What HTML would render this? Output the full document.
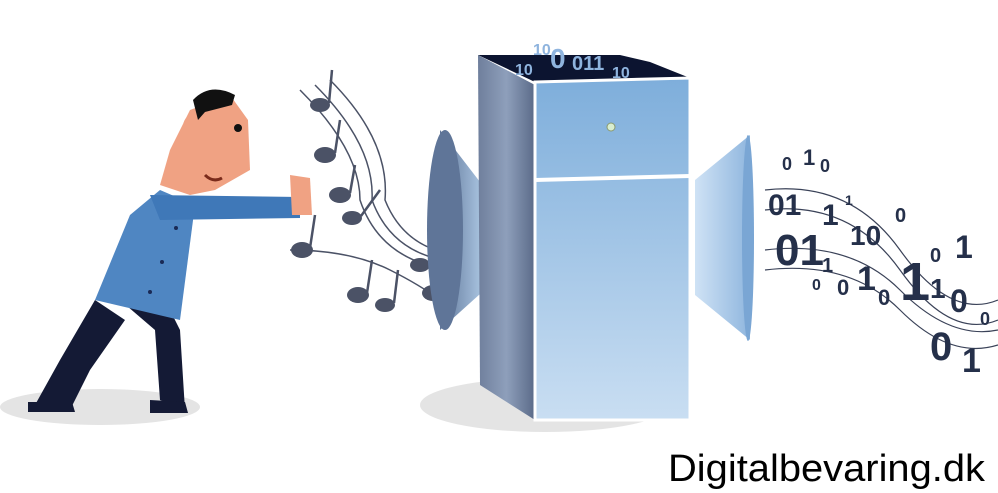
<!DOCTYPE html>
<html><head><meta charset="utf-8"><style>
html,body{margin:0;padding:0;background:#fff;width:998px;height:493px;overflow:hidden}
svg{display:block}
</style></head><body>
<svg width="998" height="493" viewBox="0 0 998 493" xmlns="http://www.w3.org/2000/svg" font-family="Liberation Sans, sans-serif">
<defs>
<linearGradient id="side" x1="0" x2="1"><stop offset="0" stop-color="#6f7f9c"/><stop offset="0.5" stop-color="#8e9fbb"/><stop offset="1" stop-color="#5a6a88"/></linearGradient>
<linearGradient id="front" x1="0" y1="0" x2="0" y2="1"><stop offset="0" stop-color="#7eaedb"/><stop offset="1" stop-color="#c9def2"/></linearGradient>
<linearGradient id="funl" x1="0" x2="1"><stop offset="0" stop-color="#5f7598"/><stop offset="1" stop-color="#b7d3ee"/></linearGradient>
<linearGradient id="funr" x1="0" x2="1"><stop offset="0" stop-color="#cfe2f5"/><stop offset="1" stop-color="#8fb6de"/></linearGradient>
</defs>
<ellipse cx="100" cy="407" rx="100" ry="18" fill="#e4e4e4"/>
<ellipse cx="545" cy="405" rx="125" ry="27" fill="#e4e4e4"/>
<path d="M95 300 L60 360 L35 405 L70 410 L90 370 L125 320 Z" fill="#141a35"/>
<path d="M120 300 L155 330 L160 400 L185 410 L180 330 L160 290 Z" fill="#141a35"/>
<path d="M28 402 L72 402 L75 412 L28 412Z" fill="#141a35"/>
<path d="M150 400 L185 402 L188 413 L150 413Z" fill="#141a35"/>
<path d="M95 300 L130 215 L160 190 L195 205 L180 320 Z" fill="#4f86c2"/>
<path d="M150 195 L300 197 L300 218 L160 220Z" fill="#3f78b8"/>
<path d="M290 175 L310 178 L312 215 L292 215Z" fill="#f0a283"/>
<g fill="#1a2a55"><circle cx="176" cy="228" r="2"/><circle cx="162" cy="262" r="2"/><circle cx="150" cy="292" r="2"/></g>
<path d="M160 185 L170 150 L190 110 L230 95 L248 120 L250 170 L215 190 L190 195 Z" fill="#f0a283"/>
<ellipse cx="192" cy="127" rx="9" ry="12" fill="#f0a283"/>
<path d="M193 100 Q210 82 235 95 L232 105 L205 112 L198 120 Z" fill="#111"/>
<circle cx="238" cy="128" r="4" fill="#111"/>
<path d="M205 175 Q213 183 222 178" stroke="#7a2b1b" stroke-width="3" fill="none"/>
<g stroke="#4b5266" stroke-width="1.5" fill="none">
<path d="M300 90 Q360 150 360 200 Q380 260 450 270"/>
<path d="M315 85 Q375 145 372 200 Q392 255 455 262"/>
<path d="M330 80 Q390 140 385 200 Q405 250 460 255"/>
<path d="M290 250 Q350 250 390 270 Q420 285 440 300"/>
</g>
<g fill="#4b5266">
<ellipse cx="320" cy="105" rx="10" ry="7"/><ellipse cx="325" cy="155" rx="11" ry="8"/>
<ellipse cx="340" cy="195" rx="11" ry="8"/><ellipse cx="352" cy="218" rx="10" ry="7"/>
<ellipse cx="302" cy="250" rx="11" ry="8"/><ellipse cx="358" cy="295" rx="11" ry="8"/>
<ellipse cx="385" cy="305" rx="10" ry="7"/><ellipse cx="420" cy="265" rx="10" ry="7"/>
<ellipse cx="433" cy="293" rx="11" ry="8"/>
</g>
<g stroke="#4b5266" stroke-width="2.5">
<line x1="329" y1="103" x2="332" y2="70"/><line x1="335" y1="153" x2="340" y2="120"/>
<line x1="350" y1="193" x2="355" y2="165"/><line x1="361" y1="216" x2="380" y2="190"/>
<line x1="367" y1="293" x2="372" y2="260"/><line x1="394" y1="303" x2="398" y2="270"/>
<line x1="429" y1="263" x2="432" y2="232"/><line x1="443" y1="291" x2="446" y2="262"/>
<line x1="310" y1="248" x2="315" y2="215"/>
</g>
<path d="M440 130 L490 195 L490 285 L440 330 Z" fill="url(#funl)"/>
<ellipse cx="445" cy="230" rx="18" ry="100" fill="#5f7598"/>
<path d="M478 55 L535 82 L690 78 L650 62 L620 55 Z" fill="#0c1430"/>
<path d="M478 55 L535 85 L535 420 L480 385 Z" fill="url(#side)"/>
<path d="M535 82 L690 78 L690 420 L535 420 Z" fill="url(#front)" stroke="#fff" stroke-width="3"/>
<line x1="535" y1="180" x2="690" y2="176" stroke="#fff" stroke-width="4"/>
<circle cx="611" cy="127" r="4" fill="#d8eed0" stroke="#8a9a70"/>
<g fill="#8fb4de" font-weight="bold">
<text x="515" y="75" font-size="16">10</text><text x="550" y="68" font-size="28">0</text>
<text x="572" y="70" font-size="20">011</text><text x="612" y="78" font-size="16">10</text>
<text x="533" y="55" font-size="16">10</text>
</g>
<path d="M695 180 L750 135 L750 340 L695 295 Z" fill="url(#funr)"/>
<ellipse cx="748" cy="238" rx="6" ry="103" fill="#7aa6d4"/>
<g stroke="#3a4258" stroke-width="1.2" fill="none">
<path d="M765 190 Q850 180 900 250 Q950 320 998 300"/>
<path d="M765 210 Q850 200 900 270 Q950 340 998 320"/>
<path d="M765 250 Q850 240 900 290 Q950 340 998 330"/>
<path d="M765 270 Q850 260 900 310 Q950 360 998 345"/>
</g>
<g fill="#25304a" font-weight="bold">
<text x="782" y="170" font-size="18">0</text><text x="803" y="165" font-size="22">1</text><text x="820" y="172" font-size="18">0</text>
<text x="768" y="215" font-size="30">01</text><text x="822" y="225" font-size="30">1</text><text x="845" y="205" font-size="14">1</text>
<text x="850" y="245" font-size="28">10</text><text x="895" y="222" font-size="20">0</text>
<text x="775" y="265" font-size="44">01</text><text x="822" y="272" font-size="20">1</text>
<text x="812" y="290" font-size="16">0</text><text x="837" y="295" font-size="22">0</text>
<text x="857" y="290" font-size="34">1</text><text x="878" y="305" font-size="22">0</text>
<text x="900" y="300" font-size="54">1</text><text x="930" y="262" font-size="20">0</text><text x="955" y="258" font-size="32">1</text>
<text x="930" y="298" font-size="28">1</text><text x="950" y="312" font-size="32">0</text><text x="980" y="325" font-size="18">0</text>
<text x="930" y="360" font-size="40">0</text><text x="962" y="372" font-size="34">1</text>
</g>
<text x="668" y="481" font-size="38" fill="#000" textLength="317" lengthAdjust="spacingAndGlyphs">Digitalbevaring.dk</text>
</svg>
</body></html>
